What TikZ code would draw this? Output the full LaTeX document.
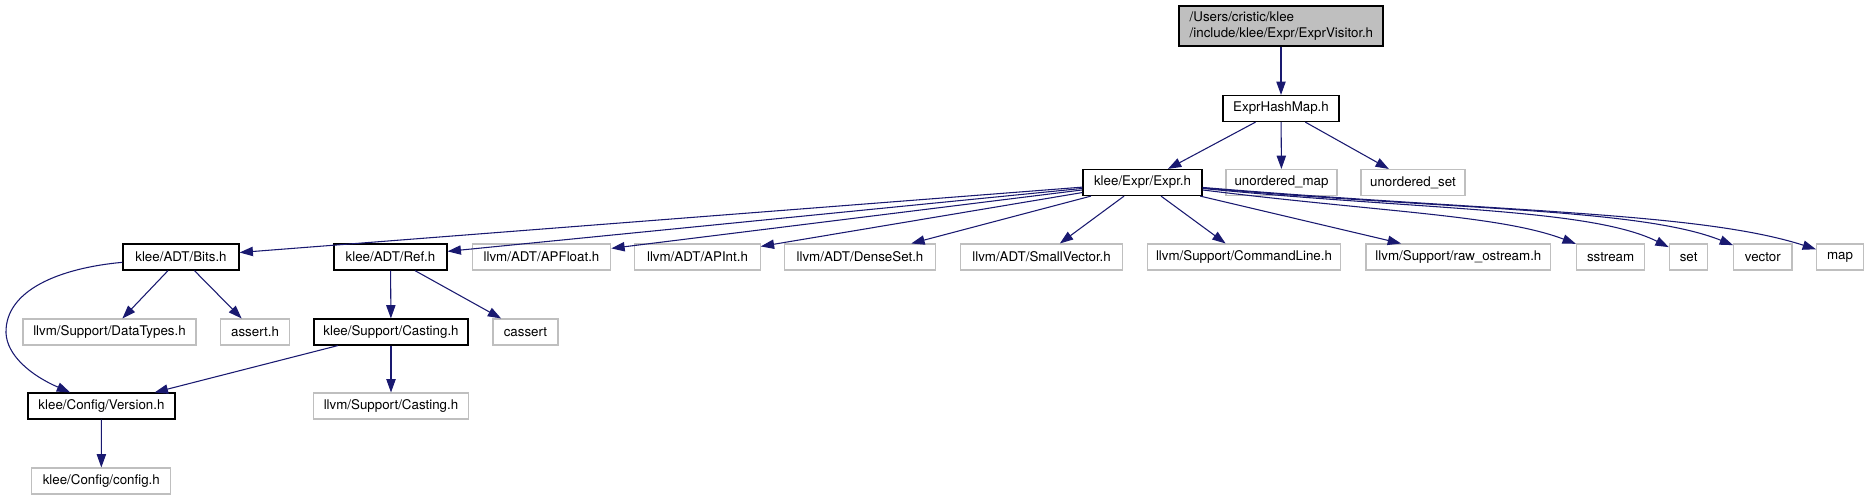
\documentclass[tikz,border=0pt]{standalone}
\usepackage{fontspec}
\setmainfont{TeX Gyre Heros}
\usetikzlibrary{arrows.meta}
\definecolor{edgeblue}{RGB}{25,25,112}
\definecolor{extgray}{RGB}{191,191,191}
\tikzset{
  base/.style={rectangle, inner xsep=2pt, inner ysep=1pt, minimum height=19.5pt, font=\fontsize{10}{12}\selectfont, anchor=center},
  doc/.style={base, draw=black, line width=0.9pt, fill=white},
  ext/.style={base, draw=extgray, line width=0.8pt, fill=white},
  topnode/.style={base, draw=black, line width=0.9pt, fill=extgray, minimum height=30pt, inner xsep=8pt, align=left},
  dep/.style={draw=edgeblue, line width=0.8pt, -{Triangle[length=10pt,width=7pt]}}
}
\begin{document}
\begin{tikzpicture}[x=0.75pt,y=-0.75pt]
\useasboundingbox (0,0) rectangle (1869,500);
% row 0
\node[topnode, minimum width=153pt, text width=137pt] (top) at (1281,26) {/Users/cristic/klee\\/include/klee/Expr/ExprVisitor.h};
% row 1
\node[doc, minimum width=87pt] (ehm) at (1281,108.5) {ExprHashMap.h};
% row 2
\node[doc, minimum width=89.25pt] (expr) at (1142.5,182.5) {klee/Expr/Expr.h};
\node[ext, minimum width=83.25pt] (umap) at (1281.5,182.5) {unordered\_map};
\node[ext, minimum width=78pt] (uset) at (1413,182.5) {unordered\_set};
% row 3
\node[doc, minimum width=87pt] (bits) at (181,257) {klee/ADT/Bits.h};
\node[doc, minimum width=84.75pt] (ref) at (390.5,257) {klee/ADT/Ref.h};
\node[ext, minimum width=103.9pt] (apfloat) at (541.5,257) {llvm/ADT/APFloat.h};
\node[ext, minimum width=94.1pt] (apint) at (697.5,257) {llvm/ADT/APInt.h};
\node[ext, minimum width=113.25pt] (denseset) at (860,257) {llvm/ADT/DenseSet.h};
\node[ext, minimum width=121.7pt] (smallvec) at (1041.5,257) {llvm/ADT/SmallVector.h};
\node[ext, minimum width=145.35pt] (cmdline) at (1244,257) {llvm/Support/CommandLine.h};
\node[ext, minimum width=138.6pt] (rawos) at (1458.4,257) {llvm/Support/raw\_ostream.h};
\node[ext, minimum width=51.3pt] (sstream) at (1610.6,257) {sstream};
\node[ext, minimum width=29pt] (set) at (1688.6,257) {set};
\node[ext, minimum width=43.8pt] (vector) at (1762.8,257) {vector};
\node[ext, minimum width=35.25pt] (map) at (1840,257) {map};
% row 4
\node[ext, minimum width=129.75pt] (datatypes) at (109.5,332) {llvm/Support/DataTypes.h};
\node[ext, minimum width=51.75pt] (assert) at (255,332) {assert.h};
\node[doc, minimum width=115.5pt] (casting) at (391,332) {klee/Support/Casting.h};
\node[ext, minimum width=48.75pt] (cassert) at (525.5,332) {cassert};
% row 5
\node[doc, minimum width=110.25pt] (version) at (101.5,406) {klee/Config/Version.h};
\node[ext, minimum width=116.25pt] (llvmcasting) at (391,406) {llvm/Support/Casting.h};
% row 6
\node[ext, minimum width=104.25pt] (config) at (101.3,481) {klee/Config/config.h};
% edges
\draw[dep] (top) -- (ehm);
\draw[dep] (ehm) -- (expr);
\draw[dep] (ehm) -- (umap);
\draw[dep] (ehm) -- (uset);
\draw[dep] (expr) -- (bits);
\draw[dep] (expr) -- (ref);
\draw[dep] (expr) -- (apfloat);
\draw[dep] (expr) -- (apint);
\draw[dep] (expr) -- (denseset);
\draw[dep] (expr) -- (smallvec);
\draw[dep] (expr) -- (cmdline);
\draw[dep] (expr) -- (rawos);
\draw[dep] (expr) .. controls (1380,212) and (1500,215) .. (sstream);
\draw[dep] (expr) .. controls (1420,210) and (1590,208) .. (set);
\draw[dep] (expr) .. controls (1450,210) and (1640,208) .. (vector);
\draw[dep] (expr) .. controls (1500,212) and (1700,212) .. (map);
\draw[dep] (bits) -- (datatypes);
\draw[dep] (bits) -- (assert);
\draw[dep] (bits) .. controls (60,268) and (5,290) .. (6,333) .. controls (7,355) and (30,375) .. (version);
\draw[dep] (ref) -- (casting);
\draw[dep] (ref) -- (cassert);
\draw[dep] (casting) -- (version);
\draw[dep] (casting) -- (llvmcasting);
\draw[dep] (version) -- (config);
\end{tikzpicture}
\end{document}
